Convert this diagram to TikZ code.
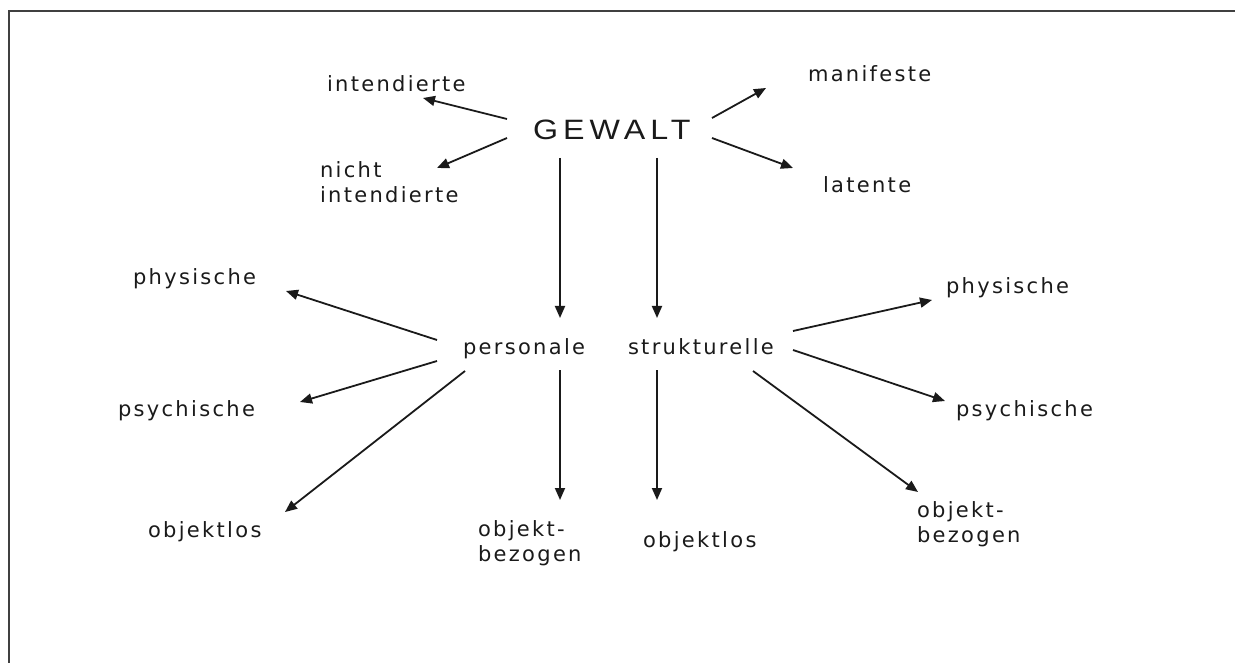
\documentclass[tikz,border=0pt]{standalone}
\usepackage{fontspec}
\setmainfont{Liberation Sans}
\newfontfamily\lblfont{DejaVu Sans}[LetterSpace=11]
\newfontfamily\titlefont{Liberation Sans}[FakeStretch=1.15,LetterSpace=18]
\usetikzlibrary{arrows.meta}
\definecolor{ink}{HTML}{1A1A1A}
\definecolor{framegray}{HTML}{404040}
\begin{document}
\begin{tikzpicture}[x=1pt,y=-1pt,
  lbl/.style={inner sep=0pt, outer sep=0pt, text=ink,
    font=\lblfont\fontsize{21}{25}\selectfont},
  lblml/.style={lbl, align=left, anchor=north west},
  title/.style={inner sep=0pt, outer sep=0pt, text=ink,
    font=\titlefont\fontsize{28}{32}\selectfont},
  arr/.style={draw=ink, line width=1.8pt,
    -{Triangle[length=12pt,width=10pt]}},
  framestyle/.style={draw=framegray, line width=2pt}]
\useasboundingbox (0,0) rectangle (1235,663);

% partial frame: left and top edges
\draw[framestyle] (8.5,663) -- (8.5,11) -- (1235,11);

% central term
\node[title, anchor=base west] (gewalt) at (533,140) {GEWALT};

% first level
\node[lbl, anchor=base west] (intend) at (327,92) {intendierte};
\node[lblml] (nichtint) at (320,162) {nicht\\intendierte};
\node[lbl, anchor=base west] (manif) at (808,82) {manifeste};
\node[lbl, anchor=base west] (latent) at (823,193) {latente};
\node[lbl, anchor=base west] (person) at (463,354) {personale};
\node[lbl, anchor=base west] (struct) at (628,354) {strukturelle};

% personal violence
\node[lbl, anchor=base west] (physL) at (133,285) {physische};
\node[lbl, anchor=base west] (psychL) at (118,416) {psychische};
\node[lbl, anchor=base west] (objlosL) at (148,537) {objektlos};
\node[lblml] (objbezM) at (478,521) {objekt-\\bezogen};

% structural violence
\node[lbl, anchor=base west] (objlosM) at (643,547) {objektlos};
\node[lbl, anchor=base west] (physR) at (946,294) {physische};
\node[lbl, anchor=base west] (psychR) at (956,416) {psychische};
\node[lblml] (objbezR) at (917,502) {objekt-\\bezogen};

% arrows from GEWALT
\draw[arr] ([shift={(-26,-21)}]gewalt.base west) -- ([shift={(96,6)}]intend.base west);
\draw[arr] ([shift={(-26,-2)}]gewalt.base west) -- ([shift={(117,6)}]nichtint.north west);
\draw[arr] ([shift={(179,-22)}]gewalt.base west) -- ([shift={(-42,6)}]manif.base west);
\draw[arr] ([shift={(179,-2)}]gewalt.base west) -- ([shift={(-30,-25)}]latent.base west);
\draw[arr] ([shift={(27,18)}]gewalt.base west) -- ([shift={(97,-36)}]person.base west);
\draw[arr] ([shift={(124,18)}]gewalt.base west) -- ([shift={(29,-36)}]struct.base west);

% arrows from personale
\draw[arr] ([shift={(-26,-14)}]person.base west) -- ([shift={(153,6)}]physL.base west);
\draw[arr] ([shift={(-26,7)}]person.base west) -- ([shift={(182,-14)}]psychL.base west);
\draw[arr] ([shift={(2,17)}]person.base west) -- ([shift={(137,-25)}]objlosL.base west);
\draw[arr] ([shift={(97,16)}]person.base west) -- ([shift={(82,-21)}]objbezM.north west);

% arrows from strukturelle
\draw[arr] ([shift={(29,16)}]struct.base west) -- ([shift={(14,-47)}]objlosM.base west);
\draw[arr] ([shift={(165,-23)}]struct.base west) -- ([shift={(-14,6)}]physR.base west);
\draw[arr] ([shift={(165,-4)}]struct.base west) -- ([shift={(-11,-15)}]psychR.base west);
\draw[arr] ([shift={(125,17)}]struct.base west) -- ([shift={(1,-10)}]objbezR.north west);
\end{tikzpicture}
\end{document}
